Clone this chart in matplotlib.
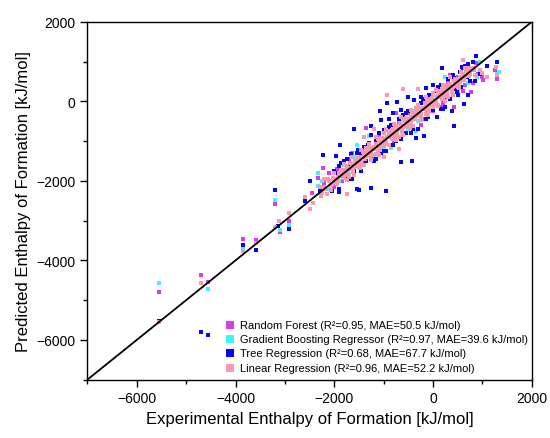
#!/usr/bin/python3

import numpy as np
import matplotlib
matplotlib.use('Agg')
import matplotlib.pyplot as plt

# Random Forest predictions (experimental, predicted) [kJ/mol]
rf_x = [-5550, -4696, -4561, -3846, -3589, -3204, -3198, -3109, -2915,
        -2340, -2239, -2450, -2200, -2100, -1950, -1850, -1700, -1600, -1500,
        -1362, -1400, -1300, -1200, -1100, -1000, -900, -800, -700, -600,
        -500, -400, -300, -200, -100, 0, 100, 200, 300, 425, 500, 600, 700,
        763, 800, 864, 900, 1000, 1020, 1250, 1300, -1650, -2000, -750, -250,
        150, 350, 650]
rf_y = [-4794, -4377, -4543, -3462, -3497, -2593, -3161, -3287, -3000,
        -1930, -1679, -2300, -2050, -1800, -1700, -2000, -1450, -1750, -1250,
        -673, -1550, -1050, -1400, -900, -1200, -650, -1000, -550, -850,
        -300, -650, -100, -450, 100, -250, 300, -50, 450, -130, 600, 250, 750,
        246, 450, 960, 700, 623, 540, 800, 560, -1300, -2150, -300, -600,
        -150, 650, 400]

# Gradient Boosting Regressor
gb_x = [-5550, -4561, -3846, -3204, -3109, -2915,
        -2340, -2340, -2250, -2100, -2000, -1900, -1800, -1700, -1600, -1500,
        -1400, -1296, -1200, -1100, -1000, -856, -800, -700, -600, -500,
        -400, -300, -200, -100, 0, 100, 200, 300, 400, 500, 600, 700, 800,
        884, 1000, 1336, 1300, 950, -1550, -950, -350, 250]
gb_y = [-4568, -4711, -3689, -2475, -3230, -3103,
        -2140, -1805, -2000, -2200, -1750, -2000, -1600, -1850, -1400, -1650,
        -1200, -884, -1350, -950, -1150, -1176, -650, -900, -450, -700,
        -250, -500, -50, -300, 150, -100, 350, 100, 550, 250, 700, 450, 850,
        623, 724, 749, 700, 980, -1100, -700, -750, 600]

# Tree Regression
tr_x = [-5550, -4696, -4561, -3846, -3589, -3204, -3150, -2915,
        -2239, -1599, -1073, -937, -640, -431, 425, 628, 176, 595, 878, 1303,
        -958, -1261, -1498, -1915, -2057, -1903, -1970, -1883, -1261, -1059,
        -891, -802, -350, -180, 89, -81, -385, -654, 156, 425, 696, -1599,
        -1767, -1397, -1126, -992, -486, -316, -12, 223, 494, 561, -148, -506,
        -721, -822, -1328, -1530, -1666, -1868, -1733, -1545,
        -1450, -1350, -1150, -1050, -850, -750, -550, -450, -250, -150, 50,
        150, 300, 350, 450, 550, 650, 750, 800, 950, 1100, -2150, -2300,
        -1950, -1800, -1700, -1250, -1150, -600, -300, 0, 250, 380, 700,
        -2600, -2500,
        -2000, -1900, -1750, -1650, -1550, -1450, -1300, -1200, -1100, -1000,
        -900, -700, -650, -500, -400, -200, -100, 100, 200, 400, 500, 600,
        700, 850, -1400, -950, -550, -250]
tr_y = [-5523, -5809, -5867, -3606, -3749, -2231, -3146, -3203,
        -1344, -691, -239, -30, -1520, -1512, -633, -63, 834, 859, 1151, 1000,
        -2249, -2181, -2240, -2291, -2249, -1638, -1369, -1093, -616, -465,
        -447, -1093, -925, -884, -382, 163, 38, -214, 415, 583, 623, -1763,
        -1889, -1595, -1136, -716, -507, -256, -214, 121, 246, 372, 332, 121,
        -5, -296, -1093, -1219, -1319, -1553, -1638, -2198,
        -1300, -1500, -1000, -1300, -600, -1000, -300, -800, -50, -450, 250,
        -200, 550, 50, 300, 750, 900, 500, 1000, 700, 900, -1950, -2250,
        -1800, -1500, -1950, -850, -1450, -350, -700, 400, -150, -250, 150,
        -2500, -2000,
        -1750, -2200, -1450, -1950, -1300, -1750, -1050, -1500, -800, -1250,
        -650, -450, -950, -250, -700, 50, -400, 350, -200, 650, 150, 850,
        950, 500, -1150, -1250, -800, 100]

# Linear Regression
lr_x = [-2300, -2250, -2200, -2150, -2100, -2050, -2000, -1950, -1900, -1850,
        -1800, -1750, -1700, -1650, -1600, -1550, -1500, -1450, -1400, -1350,
        -1300, -1250, -1200, -1150, -1100, -1050, -1000, -950, -900, -850,
        -800, -750, -700, -650, -600, -550, -500, -450, -400, -350,
        -300, -250, -200, -150, -100, -50, 0, 50, 100, 150,
        200, 250, 300, 350, 400, 450, 500, 550, 600, 650,
        700, 750, 800, 850,
        -2275, -2225, -2175, -2125, -2075, -2025, -1975, -1925, -1875, -1825,
        -1775, -1725, -1675, -1625, -1575, -1525, -1475, -1425, -1375, -1325,
        -1275, -1225, -1175, -1125, -1075, -1025, -975, -925, -875, -825,
        -775, -725, -675, -625, -575, -525, -475, -425, -375, -325,
        -275, -225, -175, -125, -75, -25, 25, 75, 125, 175,
        225, 275, 325, 375, 425, 475, 525, 575, 625, 675,
        725, 775, 825,
        -1800, -1750, -1700, -1650, -1600, -1550, -1500, -1450, -1400, -1350,
        -1300, -1250, -1200, -1150, -1100, -1050, -1000, -950, -900, -850,
        -800, -750, -700, -650, -600, -550, -500, -450, -400, -350,
        -300, -250, -200, -150, -100, -50, 0, 50, 100, 150,
        200, 250, 300, 350, 400, 450, 500,
        -2000, -1950, -1900, -1850, -1800, -1750, -1700, -1650, -1600, -1550,
        -1500, -1450, -1400, -1350, -1300, -1250, -1200, -1150, -1100, -1050,
        -1000, -950, -900, -850, -800, -750, -700, -650, -600, -550,
        -500, -450, -400, -350, -300, -250, -200, -150, -100, -50,
        0, 50, 100, 150, 200, 250, 300, 350, 400, 450,
        500, 550, 600, 650, 700,
        -2075, -2025, -1975, -1925, -1875, -1825, -1775, -1725, -1675, -1625,
        -1575, -1525, -1475, -1425, -1375, -1325, -1275, -1225, -1175, -1125,
        -1075, -1025, -975, -925, -875, -825, -775, -725, -675, -625,
        -575, -525, -475, -425, -375, -325, -275, -225, -175, -125,
        -75, -25, 25, 75, 125, 175, 225, 275, 325, 375,
        425, 475, 525, 575, 625, 675, 725,
        -2441, -1747, -2915, -3117, -3198, -3846, -3589, -4696, -5550, 615,
        1000, 1269, 1303, -619, -937, -2200, -1400, -1000, 950, 1100,
        -2600, -2500, -300, -1200, -700]
lr_y = [-2150, -2310, -2160, -2330, -2010, -2070, -1800, -2070, -1890, -1780,
        -1890, -1620, -1900, -1620, -1640, -1440, -1650, -1390, -1410, -1170,
        -1150, -1310, -1160, -1330, -1010, -1070, -800, -1070, -890, -780,
        -890, -620, -900, -620, -640, -440, -650, -390, -410, -170,
        -150, -310, -160, -330, -10, -70, 200, -70, 110, 220,
        110, 380, 100, 380, 360, 560, 350, 610, 590, 830,
        850, 690, 840, 670,
        -2375, -2165, -2205, -1955, -2235, -1925, -2025, -1905, -1735, -1935,
        -1725, -1795, -1555, -1765, -1495, -1525, -1665, -1265, -1455, -1235,
        -1375, -1165, -1205, -955, -1235, -925, -1025, -905, -735, -935,
        -725, -795, -555, -765, -495, -525, -665, -265, -455, -235,
        -375, -165, -205, 45, -235, 75, -25, 95, 265, 65,
        275, 205, 445, 235, 505, 475, 335, 735, 545, 765,
        625, 835, 795,
        -1580, -1980, -1700, -1400, -1850, -1430, -1630, -1220, -1610, -1290,
        -1080, -1480, -1200, -900, -1350, -930, -1130, -720, -1110, -790,
        -580, -980, -700, -400, -850, -430, -630, -220, -610, -290,
        -80, -480, -200, 100, -350, 70, -130, 280, -110, 210,
        420, 20, 300, 600, 150, 570, 370,
        -1960, -2020, -1800, -1870, -1740, -1860, -1700, -1570, -1650, -1530,
        -1460, -1520, -1300, -1370, -1240, -1360, -1200, -1070, -1150, -1030,
        -960, -1020, -800, -870, -740, -860, -700, -570, -650, -530,
        -460, -520, -300, -370, -240, -360, -200, -70, -150, -30,
        40, -20, 200, 130, 260, 140, 300, 430, 350, 470,
        540, 480, 700, 630, 760,
        -2115, -1945, -2065, -1895, -1885, -1715, -1835, -1675, -1675, -1745,
        -1615, -1445, -1565, -1395, -1385, -1215, -1335, -1175, -1175, -1245,
        -1115, -945, -1065, -895, -885, -715, -835, -675, -675, -745,
        -615, -445, -565, -395, -385, -215, -335, -175, -175, -245,
        -115, 55, -65, 105, 115, 285, 165, 325, 325, 255,
        385, 555, 435, 605, 615, 785, 665,
        -2558, -2332, -2809, -3020, -3161, -3756, -3563, -4578, -5560, 1043,
        708, 874, 666, 306, 163, -1950, -900, -1400, 800, 600,
        -2400, -2700, 300, -700, -1200]

labels = ['Random Forest (R²=0.95, MAE=50.5 kJ/mol)',
          'Gradient Boosting Regressor (R²=0.97, MAE=39.6 kJ/mol)',
          'Tree Regression (R²=0.68, MAE=67.7 kJ/mol)',
          'Linear Regression (R²=0.96, MAE=52.2 kJ/mol)']
colors = ['#D93BF2', '#3DF6F6', '#0505F2', '#F899AF']


def main():
    plt.rcParams['font.family'] = ['Liberation Sans', 'DejaVu Sans']
    fig = plt.figure(figsize=(5.5, 4.39), dpi=100)
    ax = fig.add_axes([0.159, 0.133, 0.808, 0.815])

    series = [(rf_x, rf_y), (gb_x, gb_y), (tr_x, tr_y), (lr_x, lr_y)]
    for (xs, ys), lab, col in zip(series, labels, colors):
        ax.scatter(xs, ys, s=8, marker='s', color=col, linewidths=0,
                   label=lab, zorder=2)

    ax.plot([-7000, 2000], [-7000, 2000], color='black', lw=1.3, zorder=3)

    ax.set_xlim(-7000, 2000)
    ax.set_ylim(-7000, 2000)
    ax.set_xticks(np.arange(-6000, 2001, 2000))
    ax.set_yticks(np.arange(-6000, 2001, 2000))
    ax.set_xticks(np.arange(-7000, 2001, 1000), minor=True)
    ax.set_yticks(np.arange(-7000, 2001, 1000), minor=True)
    ax.tick_params(which='both', direction='out', labelsize=10, width=1)
    ax.tick_params(which='major', length=5)
    ax.tick_params(which='minor', length=3)
    for sp in ax.spines.values():
        sp.set_linewidth(1)

    ax.set_xlabel('Experimental Enthalpy of Formation [kJ/mol]', fontsize=12)
    ax.set_ylabel('Predicted Enthalpy of Formation [kJ/mol]', fontsize=12)

    leg = ax.legend(loc='lower left', bbox_to_anchor=(0.285, -0.005),
                    frameon=False, fontsize=8, handletextpad=0.35,
                    labelspacing=0.38, handlelength=1.2, borderpad=0.3)
    for h in leg.legend_handles:
        h.set_sizes([32])

    fig.savefig('out.png', dpi=100)
    plt.close(fig)


if __name__ == "__main__":
    main()
